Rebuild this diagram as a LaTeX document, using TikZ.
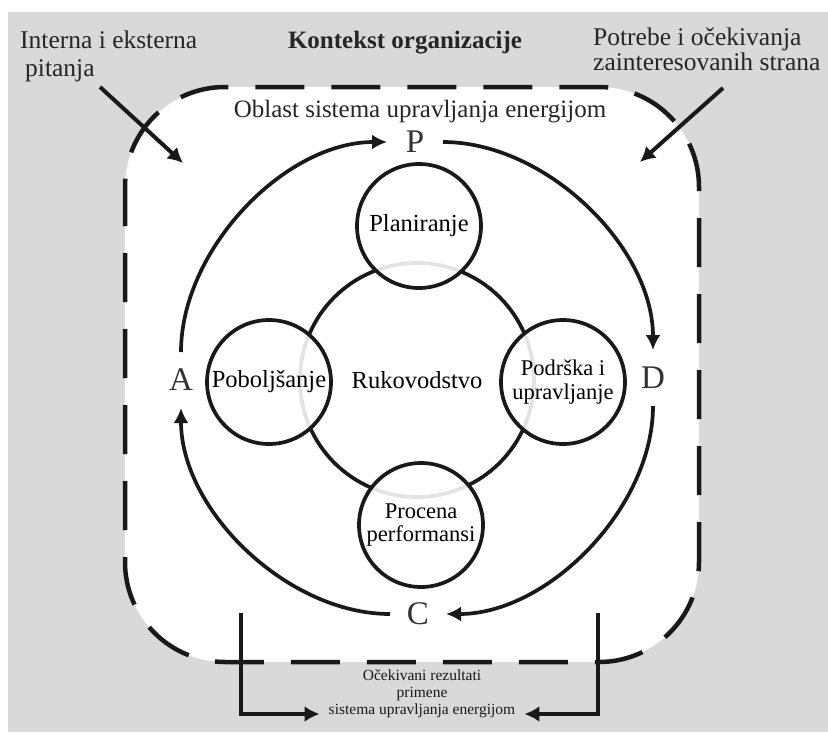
\documentclass[tikz,border=0pt]{standalone}
\usepackage{fontspec}
\setmainfont{Liberation Serif}
\usetikzlibrary{arrows.meta}
\definecolor{bggray}{RGB}{217,217,217}
\begin{document}
\begin{tikzpicture}[x=1pt,y=1pt,
  lbl/.style={font=\fontsize{25.5}{25}\selectfont, inner sep=0pt, text=black!85},
  ctext/.style={font=\fontsize{24.5}{25}\selectfont},
  ctext2/.style={font=\fontsize{22.5}{23.5}\selectfont},
  bigletter/.style={font=\fontsize{33}{33}\selectfont, inner sep=0pt, text=black!80},
  smallcirc/.style={circle, draw=black!90, line width=3.7pt, minimum size=124pt, inner sep=0pt,
     fill=white, fill opacity=0.88, text opacity=1, align=center},
  bigcirc/.style={circle, draw=black!90, line width=3.7pt, minimum size=234pt, inner sep=0pt, fill=white},
  cyc/.style={line width=3.7pt, draw=black!90, shorten <=28pt, shorten >=28pt,
     -{Latex[length=15pt,width=15pt]}},
  arr/.style={line width=4pt, draw=black!90, -{Latex[length=15pt,width=16pt]}},
  dashbox/.style={line width=4.5pt, draw=black!90, dash pattern=on 49pt off 27pt, dash phase=10pt,
     rounded corners=100pt, fill=white},
  res/.style={font=\fontsize{15.5}{17}\selectfont, inner ysep=0pt, inner xsep=9pt, text=black!90}
]
\useasboundingbox (0,0) rectangle (828,-732);
\fill[white] (0,0) rectangle (828,-732);
\fill[bggray] (8,-12) rectangle (828,-732);

% scope box
\draw[dashbox] (125,-87) rectangle (699,-662);

% top texts
\node[lbl, anchor=west, align=left, font=\fontsize{25.5}{28}\selectfont] (intext) at (20,-56)
  {Interna i eksterna\\\hspace*{5pt}pitanja};
\node[lbl, anchor=west, align=left] (potr) at (593,-49.5)
  {Potrebe i očekivanja\\zainteresovanih strana};
\node[lbl, font=\bfseries\fontsize{25}{25}\selectfont] (kont) at (405,-43) {Kontekst organizacije};
\node[lbl, font=\fontsize{25}{25}\selectfont] (obl) at (420,-112) {Oblast sistema upravljanja energijom};

% incoming arrows
\coordinate (ia1) at (100,-87);
\coordinate (ia2) at (183,-163);
\coordinate (pa1) at (723,-88);
\coordinate (pa2) at (640,-162);
\draw[arr] (ia1) -- (ia2);
\draw[arr] (pa1) -- (pa2);

% circles
\node[bigcirc, ctext] (ruk) at (417,-380) {Rukovodstvo};
\node[smallcirc, ctext] (plan) at (419,-226) {Planiranje};
\node[smallcirc, ctext] (pob) at (269,-382) {Poboljšanje};
\node[smallcirc, ctext2] (podr) at (563,-382) {Podrška i\\upravljanje};
\node[smallcirc, ctext2] (proc) at (421,-525) {Procena\\performansi};

% PDCA letters
\node[bigletter] (P) at (415,-142) {P};
\node[bigletter] (D) at (653,-378) {D};
\node[bigletter] (C) at (418,-614) {C};
\node[bigletter] (A) at (181,-380) {A};

\draw[cyc] (A.center) to[out=90,in=180] (P.center);
\draw[cyc] (P.center) to[out=0,in=90] (D.center);
\draw[cyc] (D.center) to[out=-90,in=0] (C.center);
\draw[cyc] (C.center) to[out=180,in=-90] (A.center);

% results
\node[res] (res1) at (422,-680) [anchor=base] {Očekivani rezultati};
\node[res] (res2) at (422,-697) [anchor=base] {primene};
\node[res, text height=8pt, text depth=8pt] (res3) at (422,-714) {sistema upravljanja energijom};
\coordinate (bl) at (241,-613);
\coordinate (br) at (598,-613);
\draw[arr] (bl) |- (res3);
\draw[arr] (br) |- (res3);
\end{tikzpicture}
\end{document}
